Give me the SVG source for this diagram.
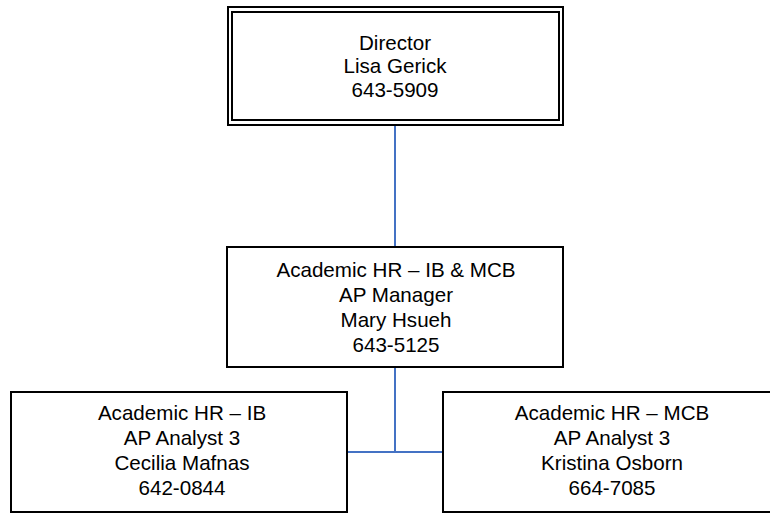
<svg xmlns="http://www.w3.org/2000/svg" width="770" height="513" viewBox="0 0 770 513">
<style>
.box{fill:#fff;stroke:#000;stroke-width:2}
.dbl{fill:none;stroke:#000;stroke-width:2}
.t{font-family:"Liberation Sans",Arial,sans-serif;font-size:20.6px;fill:#000;text-anchor:middle}
.c{stroke:#4472C4;stroke-width:2;fill:none}
</style>
<rect width="770" height="513" fill="#fff"/>
<g id="connectors">
<line class="c" x1="395" y1="125" x2="395" y2="247"/>
<line class="c" x1="395" y1="367" x2="395" y2="452"/>
<line class="c" x1="347" y1="452" x2="443" y2="452"/>
</g>
<g id="director">
<rect class="box" x="228" y="7" width="335" height="118"/>
<rect class="dbl" x="232" y="12" width="327" height="108"/>
<text class="t" x="395" y="50">Director</text>
<text class="t" x="395" y="73">Lisa Gerick</text>
<text class="t" x="395" y="97">643-5909</text>
</g>
<g id="manager">
<rect class="box" x="227" y="247" width="336" height="120"/>
<text class="t" x="396" y="277">Academic HR – IB &amp; MCB</text>
<text class="t" x="396" y="302">AP Manager</text>
<text class="t" x="396" y="327">Mary Hsueh</text>
<text class="t" x="396" y="352">643-5125</text>
</g>
<g id="analyst-ib">
<rect class="box" x="11" y="392" width="336" height="120"/>
<text class="t" x="182" y="420">Academic HR – IB</text>
<text class="t" x="182" y="445">AP Analyst 3</text>
<text class="t" x="182" y="470">Cecilia Mafnas</text>
<text class="t" x="182" y="495">642-0844</text>
</g>
<g id="analyst-mcb">
<rect class="box" x="443" y="392" width="336" height="120"/>
<text class="t" x="612" y="420">Academic HR – MCB</text>
<text class="t" x="612" y="445">AP Analyst 3</text>
<text class="t" x="612" y="470">Kristina Osborn</text>
<text class="t" x="612" y="495">664-7085</text>
</g>
</svg>
